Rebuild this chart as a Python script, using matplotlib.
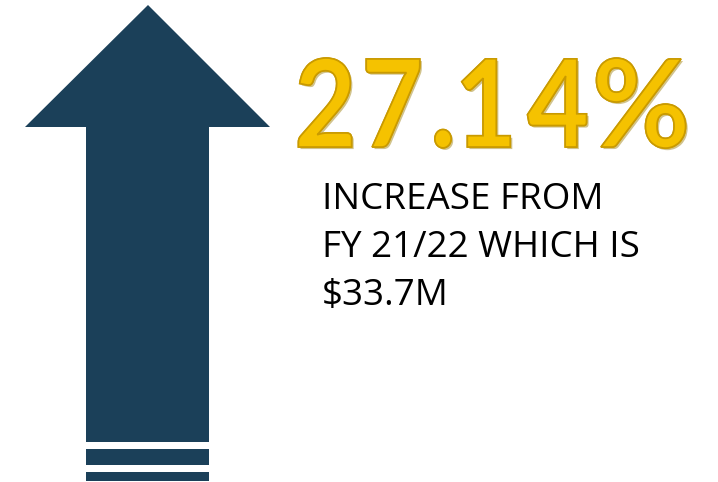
import matplotlib
matplotlib.use("Agg")
import matplotlib.pyplot as plt
import matplotlib.patheffects as pe
from matplotlib.patches import Polygon, Rectangle, PathPatch
from matplotlib.textpath import TextPath
from matplotlib.font_manager import FontProperties
from matplotlib.transforms import Affine2D

# headline figure and caption text
pct_chars = ["2", "7", ".", "1", "4", "%"]
caption_lines = ["INCREASE FROM", "FY 21/22 WHICH IS", "$33.7M"]

NAVY = "#1b4059"
GOLD = "#f5c200"
GOLD_EDGE = "#c99a00"

fig = plt.figure(figsize=(7.18, 4.82), dpi=100)
ax = fig.add_axes([0, 0, 1, 1])
ax.set_xlim(0, 718)
ax.set_ylim(482, 0)
ax.axis("off")

# up arrow (pixel coords)
arrow = [(148, 5), (270, 127), (209, 127), (209, 442),
         (86, 442), (86, 127), (25, 127)]
ax.add_patch(Polygon(arrow, closed=True, facecolor=NAVY, edgecolor="none"))
# stripes under the shaft
ax.add_patch(Rectangle((86, 449), 123, 16, facecolor=NAVY, edgecolor="none"))
ax.add_patch(Rectangle((86, 472), 123, 9, facecolor=NAVY, edgecolor="none"))

# gold percentage: glyph outlines, squeezed a bit, placed one by one
fp = FontProperties(family="Lato", weight="bold")
ref = TextPath((0, 0), "2", size=100, prop=fp).get_extents()
sy = 89.0 / ref.height     # digit height in px
sx = sy * 0.88
centers = [325, 393, 443, 486, 557, 641]
widen = [1.0, 1.0, 1.0, 1.0, 1.0, 1.12]
baseline = 147
effects = [pe.withSimplePatchShadow(offset=(1.5, -1.5), shadow_rgbFace="#9a7a00", alpha=0.45),
           pe.Normal()]
for ch, cx, w in zip(pct_chars, centers, widen):
    tp = TextPath((0, 0), ch, size=100, prop=fp)
    ext = tp.get_extents()
    mid = (ext.x0 + ext.x1) / 2
    tr = Affine2D().translate(-mid, 0).scale(sx * w, -sy).translate(cx, baseline)
    ax.add_patch(PathPatch(tr.transform_path(tp), facecolor=GOLD,
                           edgecolor=GOLD_EDGE, linewidth=1.2, path_effects=effects))

# caption
for i, line in enumerate(caption_lines):
    ax.text(322, 209 + i * 48, line, fontsize=26.5, family="Open Sans",
            color="black", ha="left", va="baseline")

fig.savefig("out.png", dpi=100, facecolor="white")
